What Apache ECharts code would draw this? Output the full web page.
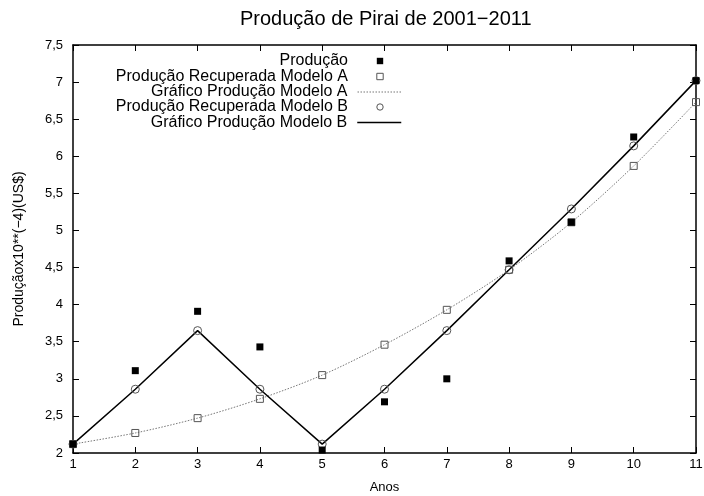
<!DOCTYPE html>
<html>
<head>
<meta charset="utf-8">
<script src="https://cdn.jsdelivr.net/npm/echarts@6/dist/echarts.min.js"></script>
<style>
html,body{margin:0;padding:0;background:#fff;}
#chart{width:704px;height:496px;}
</style>
</head>
<body>
<div id="chart"></div>
<script>
// ---- data ----
const anos = [1, 2, 3, 4, 5, 6, 7, 8, 9, 10, 11];
const producao = [2.12, 3.11, 3.91, 3.43, 2.04, 2.69, 3.00, 4.59, 5.11, 6.26, 7.02];
const recuperadaA = [2.12, 2.27, 2.47, 2.73, 3.05, 3.46, 3.93, 4.47, 5.11, 5.87, 6.73];
const recuperadaB = [2.12, 2.86, 3.65, 2.86, 2.12, 2.86, 3.65, 4.47, 5.29, 6.14, 7.02];
const yTicks = ['2', '2,5', '3', '3,5', '4', '4,5', '5', '5,5', '6', '6,5', '7', '7,5'];
const seriesNames = [
  'Produção',
  'Produção Recuperada Modelo A',
  'Gráfico Produção Modelo A',
  'Produção Recuperada Modelo B',
  'Gráfico Produção Modelo B'
];

function pairs(ys) { return anos.map((x, i) => [x, ys[i]]); }

const FONT = 'Liberation Sans, Arial, Helvetica, sans-serif';

const chart = echarts.init(document.getElementById('chart'), null, {renderer: 'canvas'});

const baseAxis = {
  axisLine: {show: true, onZero: false, lineStyle: {color: '#000', width: 1.5}},
  axisTick: {show: true, inside: true, length: 6, lineStyle: {color: '#000', width: 1}},
  splitLine: {show: false}
};

const legendRows = [61, 76.5, 92, 107, 122.5];
const legendItemStyles = [
  {itemStyle: {color: '#000', borderWidth: 0}, lineStyle: {opacity: 0, color: 'rgba(0,0,0,0)'}},
  {itemStyle: {color: 'rgba(255,255,255,0)', borderColor: '#555', borderWidth: 1}, lineStyle: {opacity: 0, color: 'rgba(0,0,0,0)'}},
  {itemStyle: {opacity: 0}, lineStyle: {color: '#777', width: 1, type: [1.5, 1.5]}},
  {itemStyle: {color: 'rgba(255,255,255,0)', borderColor: '#555', borderWidth: 1}, lineStyle: {opacity: 0, color: 'rgba(0,0,0,0)'}},
  {itemStyle: {opacity: 0}, lineStyle: {color: '#000', width: 1.5, type: 'solid'}}
];

const legends = seriesNames.map((name, i) => ({
  data: [Object.assign({name: name}, legendItemStyles[i])],
  orient: 'horizontal',
  align: 'right',
  right: 302,
  top: legendRows[i] - 8,
  padding: 0,
  itemWidth: 44,
  itemHeight: 8,
  selectedMode: false,
  textStyle: {fontFamily: FONT, fontSize: 16, color: '#000', padding: [0, 5, 0, 0]}
}));

chart.setOption({
  animation: false,
  backgroundColor: '#fff',
  title: {
    text: 'Produção de Pirai de 2001−2011',
    left: 240,
    top: 9,
    padding: 0,
    textStyle: {fontFamily: FONT, fontSize: 20, fontWeight: 'normal', color: '#000'}
  },
  legend: legends,
  grid: {left: 73, right: 8, top: 45, bottom: 43, containLabel: false, outerBoundsMode: 'none'},
  xAxis: [
    Object.assign({}, baseAxis, {
      type: 'value', min: 1, max: 11, interval: 1, position: 'bottom',
      name: 'Anos', nameLocation: 'middle', nameGap: 28,
      nameTextStyle: {fontFamily: FONT, fontSize: 13, color: '#000'},
      axisLabel: {fontFamily: FONT, fontSize: 13, color: '#000', margin: 5}
    }),
    Object.assign({}, baseAxis, {
      type: 'value', min: 1, max: 11, interval: 1, position: 'top',
      axisLabel: {show: false}
    })
  ],
  yAxis: [
    Object.assign({}, baseAxis, {
      type: 'value', min: 2, max: 7.5, interval: 0.5, position: 'left',
      name: 'Produçãox10**(−4)(US$)', nameLocation: 'middle', nameGap: 47,
      nameTextStyle: {fontFamily: FONT, fontSize: 14, color: '#000'},
      axisLabel: {fontFamily: FONT, fontSize: 13, color: '#000', margin: 10,
        formatter: function (v) { return yTicks[Math.round((v - 2) / 0.5)]; }}
    }),
    Object.assign({}, baseAxis, {
      type: 'value', min: 2, max: 7.5, interval: 0.5, position: 'right',
      axisLabel: {show: false}
    })
  ],
  series: [
    {
      name: seriesNames[2], type: 'line', data: pairs(recuperadaA),
      smooth: 0.3, symbol: 'none', z: 2,
      lineStyle: {color: '#777', width: 1, type: [1.5, 1.5]}
    },
    {
      name: seriesNames[4], type: 'line', data: pairs(recuperadaB),
      symbol: 'none', z: 3,
      lineStyle: {color: '#000', width: 1.5}
    },
    {
      name: seriesNames[1], type: 'line', data: pairs(recuperadaA),
      symbol: 'rect', symbolSize: 7, showAllSymbol: true, z: 4,
      lineStyle: {opacity: 0, width: 0},
      itemStyle: {color: 'rgba(255,255,255,0)', borderColor: '#555', borderWidth: 1}
    },
    {
      name: seriesNames[3], type: 'line', data: pairs(recuperadaB),
      symbol: 'circle', symbolSize: 8, showAllSymbol: true, z: 5,
      lineStyle: {opacity: 0, width: 0},
      itemStyle: {color: 'rgba(255,255,255,0)', borderColor: '#555', borderWidth: 1}
    },
    {
      name: seriesNames[0], type: 'line', data: pairs(producao),
      symbol: 'rect', symbolSize: 7, showAllSymbol: true, z: 6,
      lineStyle: {opacity: 0, width: 0},
      itemStyle: {color: '#000', borderWidth: 0}
    }
  ]
});
</script>
</body>
</html>
